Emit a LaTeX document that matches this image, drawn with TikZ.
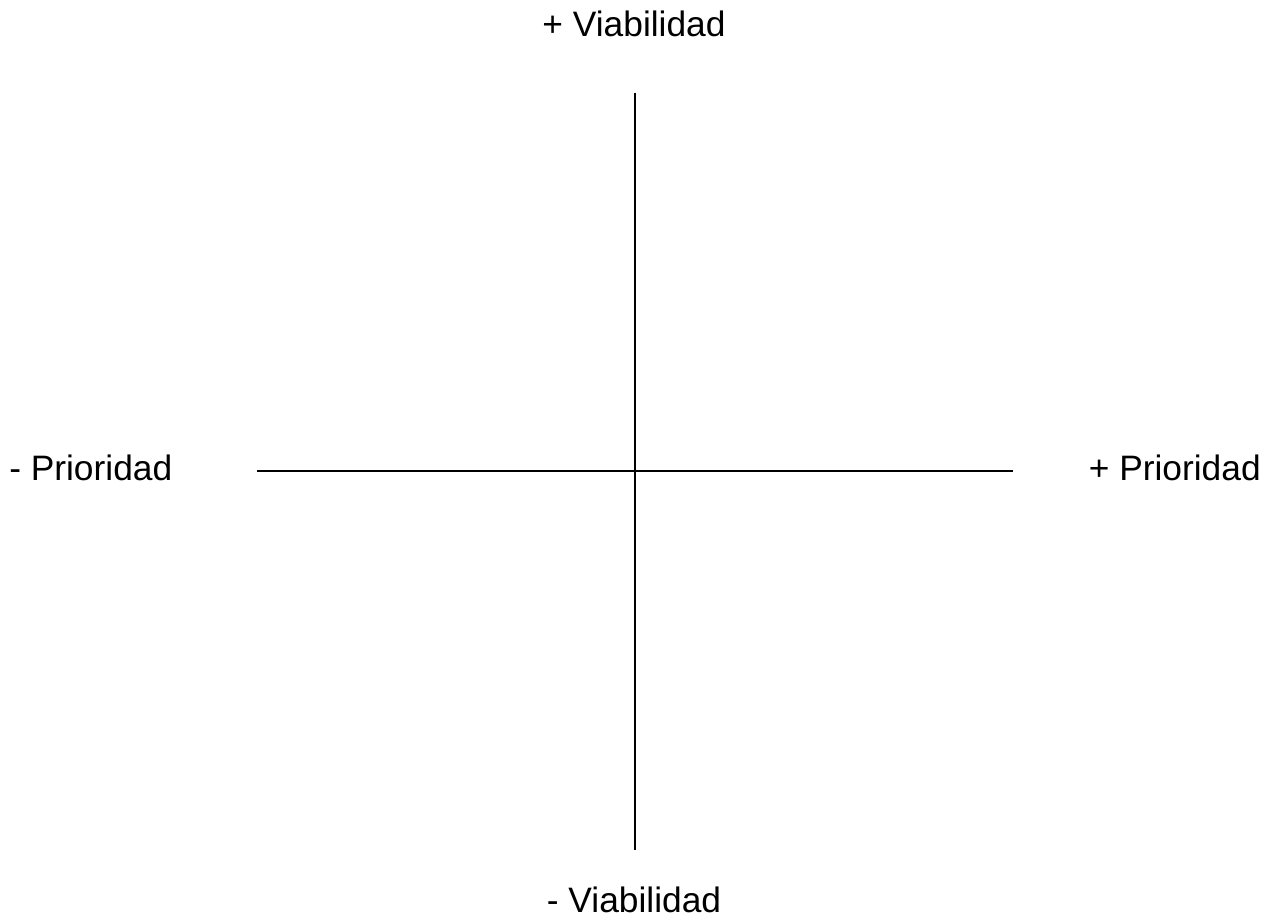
\documentclass[tikz,border=0pt]{standalone}
\usepackage{fontspec}
\setmainfont{Liberation Sans}

\begin{document}
\begin{tikzpicture}[x=0.75pt, y=-0.75pt, line width=1.9pt,
  axislabel/.style={inner sep=0pt, font=\fontsize{26.5}{30}\selectfont}]
  \useasboundingbox (0,0) rectangle (1271,920);
  \coordinate (O) at (635,471);
  \coordinate (top) at (635,93);
  \coordinate (bot) at (635,850);
  \coordinate (lft) at (257,471);
  \coordinate (rgt) at (1013,471);
  \draw (lft) -- (rgt);
  \draw (top) -- (bot);
  \node[axislabel, anchor=base] (vplus) at (634,37) {+ Viabilidad};
  \node[axislabel, anchor=base] (vminus) at (634,912) {- Viabilidad};
  \node[axislabel, anchor=base west] (pminus) at (8,480) {- Prioridad};
  \node[axislabel, anchor=base east] (pplus) at (1262,480) {+ Prioridad};
\end{tikzpicture}
\end{document}
